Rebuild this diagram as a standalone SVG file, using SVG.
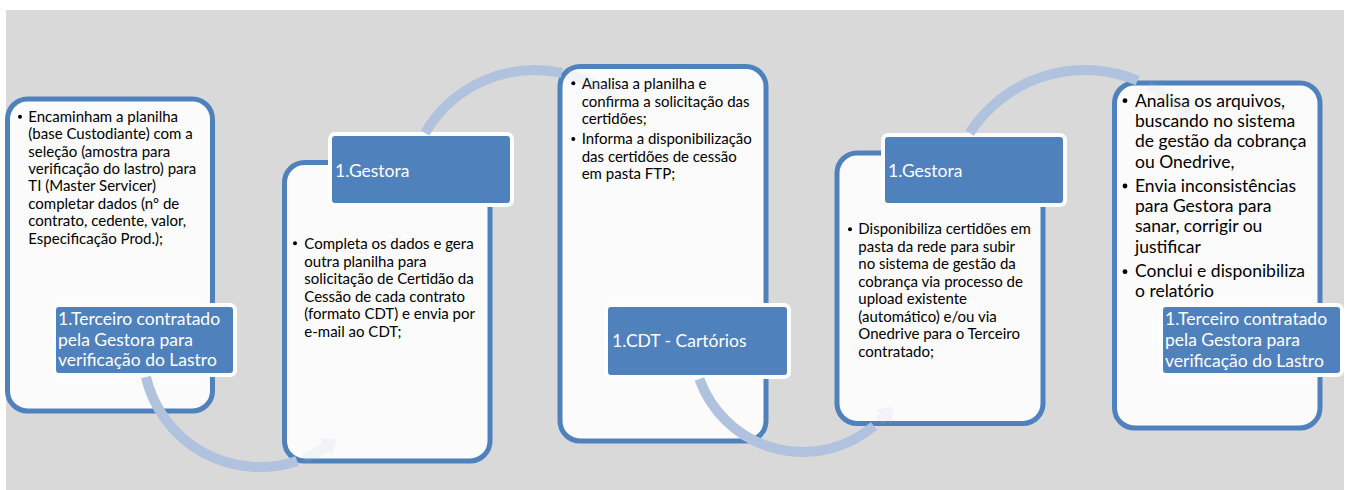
<svg xmlns="http://www.w3.org/2000/svg" width="1350" height="490" viewBox="0 0 1350 490">
<style>
.box{fill:#FBFBFB;stroke:#4F81BD;stroke-width:5}
.lbl{fill:#4F81BD;stroke:#FFFFFF;stroke-width:4}
.lt{font-family:Lato,"Liberation Sans",sans-serif;font-size:17.5px;fill:#FFFFFF}
.bt{font-family:Lato,"Liberation Sans",sans-serif;font-size:15px;fill:#000000}
.bt5{font-family:Lato,"Liberation Sans",sans-serif;font-size:17.5px;fill:#000000}
.arc{fill:none;stroke:#B0C2DE;stroke-width:10}
.faint{fill:none;stroke:#B0C2DE;stroke-opacity:0.13;stroke-width:10}
.dot{fill:#000000}
</style>
<defs>
<marker id="headFaint" markerUnits="userSpaceOnUse" viewBox="0 0 14 22" markerWidth="14" markerHeight="22" refX="0" refY="11" orient="auto">
<path d="M0,0 L14,11 L0,22 z" fill="#B0C2DE" fill-opacity="0.13"/>
</marker>
</defs>
<rect x="0" y="0" width="1350" height="490" fill="#FFFFFF"/>
<rect x="6" y="10" width="1338" height="480" fill="#D9D9D9"/>

<g id="node1">
<rect class="box" x="7.5" y="99" width="205" height="312" rx="20"/>
<circle class="dot" cx="20" cy="116.7" r="2"/>
<text class="bt" x="28.3" y="121.7">Encaminham a planilha</text>
<text class="bt" x="28.3" y="139.1">(base Custodiante) com a</text>
<text class="bt" x="28.3" y="156.5">seleção (amostra para</text>
<text class="bt" x="28.3" y="173.9">verificação do lastro) para</text>
<text class="bt" x="28.3" y="191.3">TI (Master Servicer)</text>
<text class="bt" x="28.3" y="208.7">completar dados (nº de</text>
<text class="bt" x="28.3" y="226.1">contrato, cedente, valor,</text>
<text class="bt" x="28.3" y="243.5">Especificação Prod.);</text>
<rect class="lbl" x="54" y="305" width="181" height="70" rx="5"/>
<text class="lt" x="58" y="325">1.Terceiro contratado</text>
<text class="lt" x="58" y="345.5">pela Gestora para</text>
<text class="lt" x="58" y="366">verificação do Lastro</text>
</g>

<g id="node2">
<rect class="box" x="284.5" y="162.5" width="205.5" height="298.5" rx="20"/>
<circle class="dot" cx="295" cy="243.3" r="2"/>
<text class="bt" x="304.3" y="249.3">Completa os dados e gera</text>
<text class="bt" x="304.3" y="266.8">outra planilha para</text>
<text class="bt" x="304.3" y="284.3">solicitação de Certidão da</text>
<text class="bt" x="304.3" y="301.8">Cessão de cada contrato</text>
<text class="bt" x="304.3" y="319.3">(formato CDT) e envia por</text>
<text class="bt" x="304.3" y="336.8">e-mail ao CDT;</text>
<rect class="lbl" x="330" y="134" width="182" height="71" rx="5"/>
<text class="lt" x="335" y="176.7">1.Gestora</text>
</g>

<g id="node3">
<rect class="box" x="560" y="66.5" width="206" height="374.5" rx="20"/>
<circle class="dot" cx="573.3" cy="83.3" r="2"/>
<text class="bt" x="581.7" y="89">Analisa a planilha e</text>
<text class="bt" x="581.7" y="106.5">confirma a solicitação das</text>
<text class="bt" x="581.7" y="124">certidões;</text>
<circle class="dot" cx="573.3" cy="139" r="2"/>
<text class="bt" x="581.7" y="144.3">Informa a disponibilização</text>
<text class="bt" x="581.7" y="161.8">das certidões de cessão</text>
<text class="bt" x="581.7" y="179.3">em pasta FTP;</text>
<rect class="lbl" x="606" y="305" width="183" height="72" rx="5"/>
<text class="lt" x="612" y="347">1.CDT - Cartórios</text>
</g>

<g id="node4">
<rect class="box" x="837" y="153" width="206" height="270.5" rx="20"/>
<circle class="dot" cx="850" cy="229.3" r="2"/>
<text class="bt" x="858.3" y="234.3">Disponibiliza certidões em</text>
<text class="bt" x="858.3" y="251.8">pasta da rede para subir</text>
<text class="bt" x="858.3" y="269.3">no sistema de gestão da</text>
<text class="bt" x="858.3" y="286.8">cobrança via processo de</text>
<text class="bt" x="858.3" y="304.3">upload existente</text>
<text class="bt" x="858.3" y="321.8">(automático) e/ou  via</text>
<text class="bt" x="858.3" y="339.3">Onedrive para o Terceiro</text>
<text class="bt" x="858.3" y="356.8">contratado;</text>
<rect class="lbl" x="883" y="135" width="182" height="70" rx="5"/>
<text class="lt" x="888" y="176.7">1.Gestora</text>
</g>

<g id="node5">
<rect class="box" x="1114.5" y="83" width="205.5" height="345" rx="20"/>
<circle class="dot" cx="1125" cy="100.7" r="2.4"/>
<text class="bt5" x="1135" y="106.7">Analisa os arquivos,</text>
<text class="bt5" x="1135" y="127">buscando no sistema</text>
<text class="bt5" x="1135" y="147.3">de gestão da cobrança</text>
<text class="bt5" x="1135" y="167.5">ou Onedrive,</text>
<circle class="dot" cx="1125" cy="186" r="2.4"/>
<text class="bt5" x="1135" y="191.7">Envia inconsistências</text>
<text class="bt5" x="1135" y="212">para Gestora para</text>
<text class="bt5" x="1135" y="232.3">sanar, corrigir ou</text>
<text class="bt5" x="1135" y="252.6">justificar</text>
<circle class="dot" cx="1125" cy="271.7" r="2.4"/>
<text class="bt5" x="1135" y="276.7">Conclui e disponibiliza</text>
<text class="bt5" x="1135" y="297.3">o relatório</text>
<rect class="lbl" x="1161" y="305" width="181" height="70" rx="5"/>
<text class="lt" x="1165" y="325">1.Terceiro contratado</text>
<text class="lt" x="1165" y="346">pela Gestora para</text>
<text class="lt" x="1165" y="367">verificação do Lastro</text>
</g>

<g id="connectors">
<path class="arc" d="M145.9,377 A117,117 0 0 0 297.1,461"/>
<path class="faint" d="M303.8,458.5 A117,117 0 0 0 325.4,447" marker-end="url(#headFaint)"/>
<path class="arc" d="M425,133 A127.5,127.5 0 0 1 561.9,72.9"/>
<path class="faint" d="M567.4,74.2 A127.5,127.5 0 0 1 608.1,93" marker-end="url(#headFaint)"/>
<path class="arc" d="M699.4,379 A110,110 0 0 0 874,426"/>
<path class="faint" d="M879.5,421 A110,110 0 0 0 883.5,417" marker-end="url(#headFaint)"/>
<path class="arc" d="M969.7,133 A137,137 0 0 1 1137.6,80.5"/>
<path class="faint" d="M1148.3,85.5 A137,137 0 0 1 1181.9,110.1" marker-end="url(#headFaint)"/>
</g>
</svg>
